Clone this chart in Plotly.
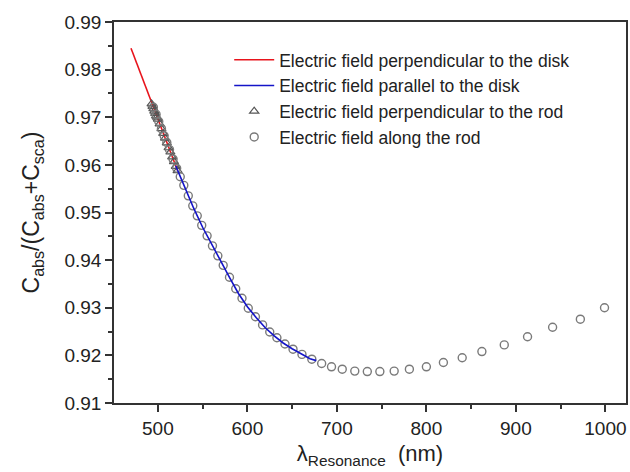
import plotly.graph_objects as go

# Red line: electric field perpendicular to the disk
disk_perp_x = [470, 480, 490, 497, 505, 513, 522]
disk_perp_y = [0.9845, 0.9796, 0.9747, 0.9713, 0.9672, 0.9632, 0.9588]

# Blue line: electric field parallel to the disk
disk_par_x = [520, 530, 540, 550, 560, 570, 580, 590, 600, 610, 620, 630, 640, 650, 660, 670, 677]
disk_par_y = [0.9598, 0.9552, 0.9509, 0.9469, 0.9433, 0.9399, 0.9364, 0.9330, 0.9302, 0.9279,
              0.9258, 0.9241, 0.9226, 0.9214, 0.9203, 0.9193, 0.9189]

# Triangles: electric field perpendicular to the rod
rod_perp_x = [493, 494, 495, 496, 497, 498, 499, 500, 502, 504, 506, 508, 510, 512, 514, 516, 518, 520, 522]
rod_perp_y = [0.9728, 0.9723, 0.9718, 0.9713, 0.9708, 0.9703, 0.9700, 0.9696, 0.9686, 0.9676,
              0.9666, 0.9656, 0.9646, 0.9636, 0.9627, 0.9617, 0.9607, 0.9597, 0.9588]

# Circles: electric field along the rod
rod_along_x = [495, 498, 501, 504, 507, 510, 513, 517, 521, 525, 529, 534, 539, 544, 549, 555,
               561, 567, 573, 580, 587, 594, 601, 609, 617, 625, 633, 642, 651, 661, 672,
               683, 694, 706, 720, 734, 748, 764, 781, 800, 819, 840, 862, 887, 913, 941, 972, 999]
rod_along_y = [0.9721, 0.9706, 0.9691, 0.9676, 0.9661, 0.9647, 0.9632, 0.9612, 0.9593, 0.9575,
               0.9557, 0.9535, 0.9514, 0.9493, 0.9473, 0.9451, 0.9430, 0.9409, 0.9389, 0.9364,
               0.9340, 0.9320, 0.9299, 0.9281, 0.9264, 0.9249, 0.9237, 0.9224, 0.9213, 0.9202,
               0.9192, 0.9183, 0.9176, 0.9171, 0.9167, 0.9166, 0.9166, 0.9167, 0.9171, 0.9176,
               0.9185, 0.9195, 0.9208, 0.9222, 0.9239, 0.9259, 0.9276, 0.9300]

FONT = "Arial, Liberation Sans, sans-serif"

fig = go.Figure()
fig.add_trace(go.Scatter(x=disk_perp_x, y=disk_perp_y, mode="lines",
                         line=dict(color="#e8141c", width=1.6),
                         name="Electric field perpendicular to the disk", legendrank=1))
fig.add_trace(go.Scatter(x=rod_perp_x, y=rod_perp_y, mode="markers",
                         marker=dict(symbol="triangle-up-open", size=8, color="#555555",
                                     line=dict(width=1.2, color="#555555")),
                         name="Electric field perpendicular to the rod", legendrank=3))
fig.add_trace(go.Scatter(x=rod_along_x, y=rod_along_y, mode="markers",
                         marker=dict(symbol="circle-open", size=8, color="#7a7a7a",
                                     line=dict(width=1.4, color="#7a7a7a")),
                         name="Electric field along the rod", legendrank=4))
fig.add_trace(go.Scatter(x=disk_par_x, y=disk_par_y, mode="lines",
                         line=dict(color="#1414c8", width=1.6),
                         name="Electric field parallel to the disk", legendrank=2))

axis_common = dict(
    showline=True, linecolor="#333333", linewidth=1.5, mirror=True,
    ticks="outside", ticklen=7, tickwidth=1.5, tickcolor="#333333",
    showgrid=False, zeroline=False,
    tickfont=dict(family=FONT, size=19, color="#222222"),
)

fig.update_xaxes(range=[451, 1023], dtick=100, tick0=0,
                 minor=dict(dtick=50, ticklen=4, tickwidth=1.5, tickcolor="#333333", ticks="outside"),
                 title=dict(text="λ<sub>Resonance</sub>  (nm)", font=dict(family=FONT, size=22, color="#222222"),
                            standoff=8),
                 **axis_common)
fig.update_yaxes(range=[0.91, 0.99], dtick=0.01, tick0=0.91, tickformat=".2f",
                 minor=dict(dtick=0.005, ticklen=4, tickwidth=1.5, tickcolor="#333333", ticks="outside"),
                 title=dict(text="C<sub>abs</sub>/(C<sub>abs</sub>+C<sub>sca</sub>)",
                            font=dict(family=FONT, size=23, color="#222222"), standoff=18),
                 **axis_common)

fig.update_layout(
    width=630, height=472,
    margin=dict(l=114, r=2, t=22, b=69),
    paper_bgcolor="white", plot_bgcolor="white",
    showlegend=True,
    legend=dict(x=0.225, y=0.948, xanchor="left", yanchor="top",
                bgcolor="rgba(0,0,0,0)", borderwidth=0,
                font=dict(family=FONT, size=17.5, color="#222222"),
                itemwidth=40),
)

fig.write_html("out.html")
